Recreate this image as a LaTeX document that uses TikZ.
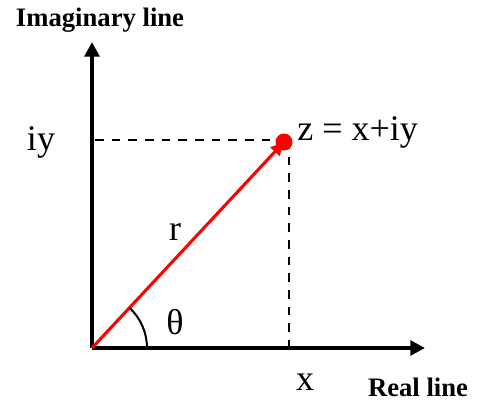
\documentclass[tikz,border=0pt]{standalone}
\usepackage{fontspec}
\setmainfont{Liberation Serif}
\usetikzlibrary{arrows.meta}
\begin{document}
\begin{tikzpicture}[x=0.75pt,y=0.75pt,
  axis/.style={line width=3pt,-{Triangle[length=11pt,width=11pt]}},
  guide/.style={line width=2pt,dash pattern=on 6.5pt off 6pt},
  lbl/.style={inner sep=0pt,font=\fontsize{27}{30}\selectfont},
  blbl/.style={inner sep=0pt,font=\fontsize{20}{24}\selectfont\bfseries}]
\useasboundingbox (0,0) rectangle (486,401);
\coordinate (O) at (92,53);
\coordinate (Ytip) at (92,359);
\coordinate (Xtip) at (425,53);
\coordinate (P) at (284,259);
\coordinate (Pc) at (289,261);
\coordinate (Px) at (289,53);
\coordinate (Py) at (95,261);
\draw[guide] (Py) -- (Pc);
\draw[guide] (Pc) -- (Px);
\draw[axis] (O) -- (Ytip);
\draw[axis] (O) -- (Xtip);
\draw[red,line width=2.3pt,-{Triangle[length=10pt,width=9pt]}] (O) -- (P);
\fill[red] (P) circle (8.5);
\draw[line width=1.5pt] ([shift={(0:55)}]O) arc (0:46.7:55);
\node[blbl] (im) at (100,381) {Imaginary line};
\node[blbl] (re) at (418,14) {Real line};
\node[lbl] (iy) at (41,259) {iy};
\node[lbl,anchor=west] (z) at (297,269) {z = x+iy};
\node[lbl] (r) at (175,169) {r};
\node[lbl] (th) at (175,79) {θ};
\node[lbl] (x) at (305,19) {x};
\end{tikzpicture}
\end{document}
